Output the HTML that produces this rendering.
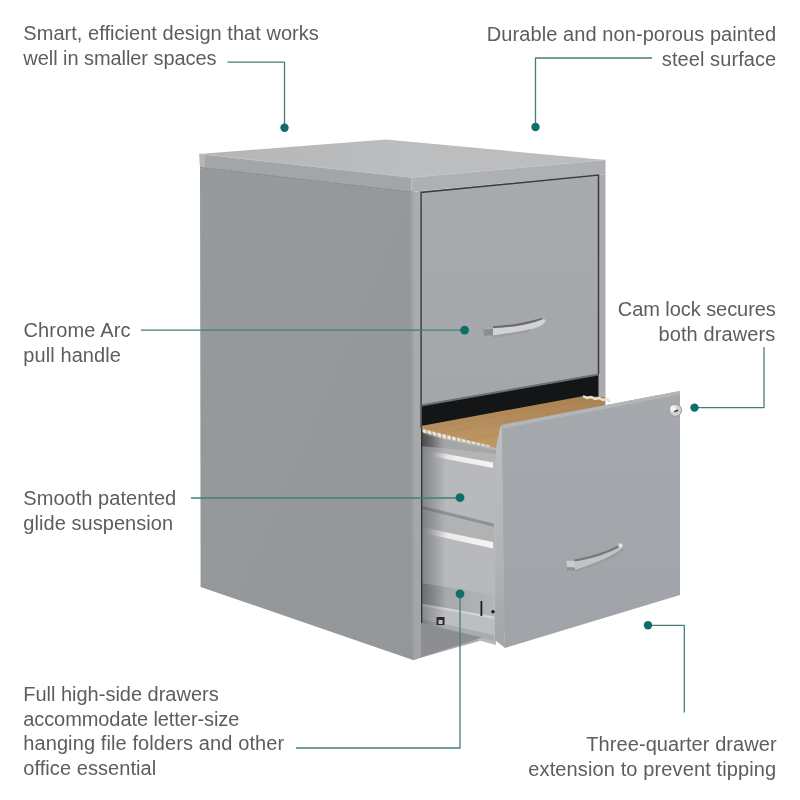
<!DOCTYPE html>
<html><head><meta charset="utf-8">
<style>
html,body{margin:0;padding:0;background:#fff;width:800px;height:800px;overflow:hidden}
svg{display:block}
.t{font-family:"Liberation Sans",sans-serif;font-size:20px;fill:#5c5d5f}
.ln{stroke:#457d7c;stroke-width:1.3;fill:none;stroke-linejoin:round}
.dot{fill:#0f6e6a}
</style></head><body>
<svg width="800" height="800" viewBox="0 0 800 800">
<defs>
<linearGradient id="gSide" x1="0" y1="0" x2="1" y2="1">
<stop offset="0" stop-color="#979a9d"/><stop offset="1" stop-color="#94979a"/>
</linearGradient>
<linearGradient id="gTop" x1="0" y1="0" x2="1" y2="0">
<stop offset="0" stop-color="#b3b5b7"/><stop offset="0.5" stop-color="#bcbdbf"/><stop offset="1" stop-color="#bcbdbf"/>
</linearGradient>
<linearGradient id="gWood" x1="0" y1="0" x2="0" y2="1">
<stop offset="0" stop-color="#aa8252"/><stop offset="1" stop-color="#c29a68"/>
</linearGradient>
<linearGradient id="gDrw" x1="0" y1="0" x2="0" y2="1">
<stop offset="0" stop-color="#a9aaae"/><stop offset="1" stop-color="#a5a6aa"/>
</linearGradient>
<linearGradient id="gDrw2" x1="0" y1="0" x2="0" y2="1">
<stop offset="0" stop-color="#a5a8ac"/><stop offset="1" stop-color="#a0a3a7"/>
</linearGradient>
<linearGradient id="gRail" x1="0" y1="0" x2="1" y2="0">
<stop offset="0" stop-color="#8e9093"/><stop offset="0.35" stop-color="#a7a9ab"/><stop offset="1" stop-color="#b3b5b7"/>
</linearGradient>
<linearGradient id="gHi" x1="0" y1="0" x2="1" y2="0">
<stop offset="0" stop-color="#ffffff" stop-opacity="0"/><stop offset="0.35" stop-color="#f2f2f3" stop-opacity="0.9"/><stop offset="1" stop-color="#f4f4f5"/>
</linearGradient>
<linearGradient id="gStrip" x1="0" y1="0" x2="0" y2="1">
<stop offset="0" stop-color="#abadb0"/><stop offset="1" stop-color="#a2a4a7"/>
</linearGradient>
<linearGradient id="gAO" x1="0" y1="0" x2="1" y2="0">
<stop offset="0" stop-color="#3a3c3f" stop-opacity="0.45"/><stop offset="1" stop-color="#3a3c3f" stop-opacity="0"/>
</linearGradient>
<linearGradient id="gAO2" x1="0" y1="0" x2="1" y2="0">
<stop offset="0" stop-color="#3f4144" stop-opacity="0.85"/><stop offset="1" stop-color="#3f4144" stop-opacity="0"/>
</linearGradient>
<linearGradient id="gFStrip" x1="0" y1="0" x2="0" y2="1">
<stop offset="0" stop-color="#bdbfc1"/><stop offset="0.6" stop-color="#b1b3b6"/><stop offset="1" stop-color="#a2a4a8"/>
</linearGradient>
<filter id="blur" x="-20%" y="-50%" width="140%" height="200%"><feGaussianBlur stdDeviation="0.7"/></filter>
</defs>

<!-- cabinet top -->
<polygon points="199.5,154 386,139.5 605.5,160 411.5,177.5" fill="url(#gTop)"/>
<polygon points="199.5,154 411.5,177.5 411.5,192 200,167.5" fill="#a3a6a9"/>
<polygon points="199.5,154 205,154.6 205,168 200,167.5" fill="#b4b6b8"/>
<polygon points="411.5,177.5 605.5,160 605.5,174 411.5,192" fill="#aeb0b3"/>
<polygon points="200,167 411.5,191.5 411.5,193 200,168.5" fill="#8a8d90"/>
<line x1="199.5" y1="154" x2="411.5" y2="177.5" stroke="#c0c1c3" stroke-width="0.6"/>
<line x1="411.5" y1="177.5" x2="605.5" y2="160" stroke="#c3c4c6" stroke-width="0.6"/>

<!-- side panel -->
<polygon points="200,168 411.5,192.5 413,660 200.6,587" fill="url(#gSide)"/>

<!-- front frame -->
<polygon points="411.5,192 605.5,174 605.5,605 413,660" fill="#aaacaf"/>
<polygon points="411.5,192 415,191.7 416,658.8 413,660" fill="#b3b5b8"/>

<!-- upper drawer -->
<polygon points="420.6,192.5 598.5,175 598.5,374 422,405" fill="url(#gDrw)"/>
<polyline points="421,405 420.6,192.5 598.5,175 598.5,374" fill="none" stroke="#3a3c3f" stroke-width="1.5"/>

<!-- black gap -->
<polygon points="421,405 598.5,374 598.5,400 421,432" fill="#141517"/>
<polygon points="421,404.5 598.5,373.5 598.5,375.5 421,406.5" fill="#6d6f73"/>

<!-- folders -->
<polygon points="421,426 584,396 605,397 605,405.5 502,425 496,450 421,434" fill="url(#gWood)"/>
<g stroke="#a58055" stroke-width="0.6" opacity="0.5">
<line x1="421" y1="430" x2="584" y2="400"/><line x1="430" y1="435" x2="600" y2="404"/><line x1="455" y1="442" x2="520" y2="430"/>
</g>
<g fill="#ece9e2" stroke="#d2cabd" stroke-width="0.4"><polygon points="422.5,429.1 426.1,430.0 426.9,435.1 423.3,434.2" /><polygon points="427.4,430.3 431.0,431.2 431.8,436.3 428.2,435.4" /><polygon points="432.3,431.5 435.9,432.4 436.7,437.5 433.1,436.6" /><polygon points="437.2,432.7 440.8,433.6 441.6,438.7 438.0,437.8" /><polygon points="442.1,433.9 445.7,434.8 446.5,439.9 442.9,439.0" /><polygon points="447.0,435.2 450.6,436.1 451.4,441.2 447.8,440.3" /><polygon points="451.9,436.4 455.5,437.3 456.3,442.4 452.7,441.5" /><polygon points="456.8,437.6 460.4,438.5 461.2,443.6 457.6,442.7" /><polygon points="461.7,438.8 465.3,439.7 466.1,444.8 462.5,443.9" /><polygon points="466.6,440.0 470.2,440.9 471.0,446.0 467.4,445.1" /><polygon points="471.5,441.2 475.1,442.1 475.9,447.2 472.3,446.3" /><polygon points="476.4,442.4 480.0,443.3 480.8,448.4 477.2,447.5" /><polygon points="481.3,443.6 484.9,444.5 485.7,449.6 482.1,448.7" /><polygon points="486.2,444.8 489.8,445.7 490.6,450.8 487.0,449.9" /></g>
<polyline points="583,396 587,398 591,397 595,399 599,398 603,400 607,399 610,402" fill="none" stroke="#e6e1d6" stroke-width="2.5"/>

<!-- drawer inner side panel -->
<polygon points="421,434 496,448 496,645 421,625" fill="#b8b9bc"/>
<polygon points="421,434 490,449 496,450 496,454 421,446" fill="#a4a6a8"/>
<polygon points="421,432 442,437 442,452 421,450" fill="url(#gAO2)"/>
<polygon points="421,446 496,454 496,462 421,452" fill="#b2b4b6"/>
<polygon points="430,451 493,462.5 493,468 430,456" fill="url(#gHi)"/>
<polygon points="421,505.5 494,523.5 494,527 421,509" fill="#909295"/>
<polygon points="421,509 494,527 494,543 421,526" fill="#b0b2b4"/>
<polygon points="425,528 493,542 493,548.5 425,533.5" fill="url(#gHi)"/>
<polygon points="421,583 494,594.5 494,617 421,604" fill="url(#gRail)"/>
<polygon points="421,603.5 494,616.5 494,619 421,606" fill="#d3d4d6"/>
<polygon points="421,606 494,619 494,641 421,623" fill="#bdbec0"/>
<polygon points="421,619 494,635 494,641 421,623" fill="#a9abad"/>
<rect x="436.5" y="617" width="8" height="8" fill="#2a2b2d"/>
<rect x="438.5" y="620" width="4" height="4" fill="#cfd0d2"/>
<rect x="480.5" y="601" width="1.8" height="15" fill="#1d1e20"/>
<circle cx="493" cy="611.8" r="1.8" fill="#1d1e20"/>
<polygon points="421,434 446,439 446,632 421,625" fill="url(#gAO)"/>
<line x1="421.3" y1="428" x2="421.3" y2="626" stroke="#303235" stroke-width="2"/>

<!-- cabinet floor dark -->
<polygon points="421,623 482,637.5 413,660 413,626" fill="#8c8e91"/>
<polygon points="411.5,192 421,192 421,657 413,660" fill="url(#gStrip)"/>
<polygon points="410,190 413.5,191 414.5,659 412,660" fill="#9a9ca0" opacity="0.6" filter="url(#blur)"/>
<line x1="421.1" y1="192" x2="421.1" y2="428" stroke="#505256" stroke-width="1.8"/>

<!-- lower drawer front: side thickness -->
<polygon points="500,428 502,425 505,648 495,640 496,448" fill="url(#gFStrip)"/>
<!-- lower drawer front face -->
<polygon points="502,425 680,391 680,595 505,648" fill="url(#gDrw2)"/>
<polygon points="502,425 680,391 680,394.5 503,428.5" fill="#b3b5b8"/>

<!-- lock -->
<circle cx="675.3" cy="410.2" r="6.2" fill="#cfd0d2" stroke="#8f9194" stroke-width="0.9"/>
<circle cx="673.2" cy="408.4" r="3" fill="#f4f4f4"/>
<line x1="674.2" y1="411.6" x2="678" y2="410.3" stroke="#2e2f31" stroke-width="1.5"/>

<!-- handles -->
<g filter="url(#blur)">
<path d="M483.5,327 L493,326.5 L493,335.5 L484,335.5 Z" fill="#8a8c90"/>
<path d="M484,327 L493,326.5 L493,329 L484,329.5 Z" fill="#a9abae"/>
<path d="M493,327 Q524,325.5 542,318.5 L546,320 Q544,326 532,329 Q512,333 493,335.5 Z" fill="#d2d3d5"/>
<path d="M493,326.2 Q522,324.5 541,318 L543.5,319 Q524,327 493,328.3 Z" fill="#6a6c70"/>
<path d="M493,335.5 Q516,332.5 532,329 L528,332.5 Q512,335.5 493,337.5 Z" fill="#9c9ea2"/>
</g>
<g filter="url(#blur)">
<path d="M566.5,560.5 L575,561 L575,570 L567,570 Z" fill="#c9cacd"/>
<path d="M567,567 L575,567.5 L575,570.5 L567,570.5 Z" fill="#8e9093"/>
<path d="M575,561 Q602,557 619,546 L623,547.5 Q612,558 575,570 Z" fill="#c2c3c6"/>
<path d="M574,559.5 Q600,555 619,545 L621,546.5 Q602,557 575,561.5 Z" fill="#76787c"/>
<path d="M575,570 Q610,559 623,547.5 L624,550 Q612,561 575,572 Z" fill="#9a9c9f"/>
<circle cx="620.5" cy="545.5" r="2.2" fill="#dfe0e2"/>
</g>

<!-- callout lines -->
<polyline class="ln" points="227.5,62.2 284.5,62.2 284.5,127.5"/>
<circle class="dot" cx="284.5" cy="127.8" r="4.2"/>
<polyline class="ln" points="652,58 535.5,58 535.5,127"/>
<circle class="dot" cx="535.5" cy="127" r="4.2"/>
<line class="ln" x1="141" y1="330.2" x2="464" y2="330.2"/>
<circle class="dot" cx="464.6" cy="330.1" r="4.4"/>
<polyline class="ln" points="764,347 764,407.6 694.5,407.6"/>
<circle class="dot" cx="694.5" cy="407.6" r="4.2"/>
<line class="ln" x1="191" y1="498" x2="460" y2="498"/>
<circle class="dot" cx="460" cy="497.6" r="4.4"/>
<polyline class="ln" points="296,748 460,748 460,594"/>
<circle class="dot" cx="460" cy="593.8" r="4.4"/>
<polyline class="ln" points="648,625.3 684.3,625.3 684.3,712.5"/>
<circle class="dot" cx="648" cy="625.3" r="4.2"/>

<!-- texts -->
<g style="will-change:transform">
<text class="t" x="23.3" y="40" textLength="295.5" lengthAdjust="spacing">Smart, efficient design that works</text>
<text class="t" x="23.3" y="65" textLength="193.2" lengthAdjust="spacing">well in smaller spaces</text>
<text class="t" x="486.8" y="41" textLength="289.2" lengthAdjust="spacing">Durable and non-porous painted</text>
<text class="t" x="661.8" y="66" textLength="114.4" lengthAdjust="spacing">steel surface</text>
<text class="t" x="23.4" y="336.5" textLength="107.2" lengthAdjust="spacing">Chrome Arc</text>
<text class="t" x="23.3" y="361.5" textLength="97.6" lengthAdjust="spacing">pull handle</text>
<text class="t" x="617.8" y="315.7" textLength="158.0" lengthAdjust="spacing">Cam lock secures</text>
<text class="t" x="658.5" y="341" textLength="116.7" lengthAdjust="spacing">both drawers</text>
<text class="t" x="23.3" y="505" textLength="152.9" lengthAdjust="spacing">Smooth patented</text>
<text class="t" x="23.3" y="530" textLength="149.8" lengthAdjust="spacing">glide suspension</text>
<text class="t" x="23.2" y="701" textLength="195.5" lengthAdjust="spacing">Full high-side drawers</text>
<text class="t" x="23.2" y="725.6" textLength="216.2" lengthAdjust="spacing">accommodate letter-size</text>
<text class="t" x="23.2" y="750.3" textLength="261.0" lengthAdjust="spacing">hanging file folders and other</text>
<text class="t" x="23.2" y="775.3" textLength="133.0" lengthAdjust="spacing">office essential</text>
<text class="t" x="586.3" y="751" textLength="190.4" lengthAdjust="spacing">Three-quarter drawer</text>
<text class="t" x="528.3" y="775.7" textLength="247.9" lengthAdjust="spacing">extension to prevent tipping</text>
</g>
</svg>
</body></html>
